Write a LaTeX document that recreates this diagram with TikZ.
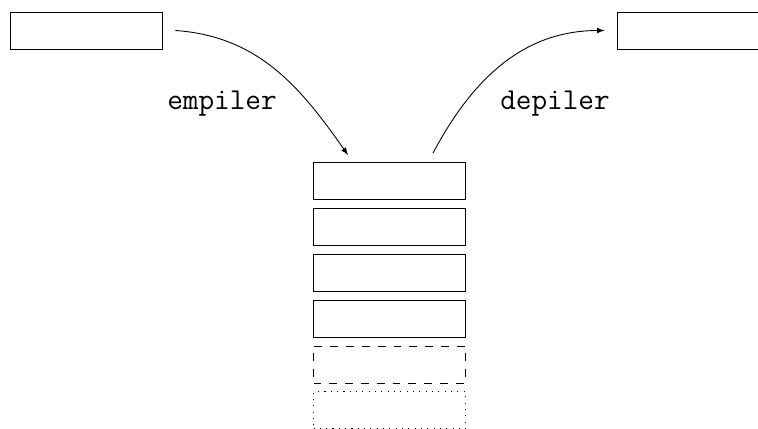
\documentclass[tikz,border=0pt]{standalone}
\usetikzlibrary{positioning}

\begin{document}
\begin{tikzpicture}[>=latex, line width=0.5pt,
    cell/.style={draw, minimum width=3.04cm, minimum height=0.74cm, inner sep=0pt},
    lbl/.style={font=\LARGE\ttfamily}]
      \useasboundingbox (0, 0) rectangle (15.16, 8.56);

      \node[cell] (src) at (1.72, 7.95) {};
      \node[cell] (dst) at (13.86, 7.95) {};

      \node[cell] (c1) at (7.79, 4.94) {};
      \node[cell, below=0.16cm of c1] (c2) {};
      \node[cell, below=0.16cm of c2] (c3) {};
      \node[cell, below=0.16cm of c3] (c4) {};
      \node[cell, dash pattern=on 4.5pt off 4.5pt, below=0.16cm of c4] (c5) {};
      \node[cell, dash pattern=on 0.6pt off 3pt, below=0.16cm of c5] (c6) {};

      \coordinate[right=0.26cm of src.east] (pushA);
      \coordinate (pushB) at ([xshift=-0.83cm, yshift=0.14cm]c1.north);
      \coordinate (popA) at ([xshift=0.87cm, yshift=0.18cm]c1.north);
      \coordinate[left=0.24cm of dst.west] (popB);

      \draw[->] (pushA) to[out=-4, in=125] (pushB);
      \draw[->] (popA) to[out=62, in=180] (popB);

      \node[lbl] (push) at (4.44, 6.48) {empiler};
      \node[lbl] (pop) at (11.1, 6.48) {depiler};
    \end{tikzpicture}
\end{document}
